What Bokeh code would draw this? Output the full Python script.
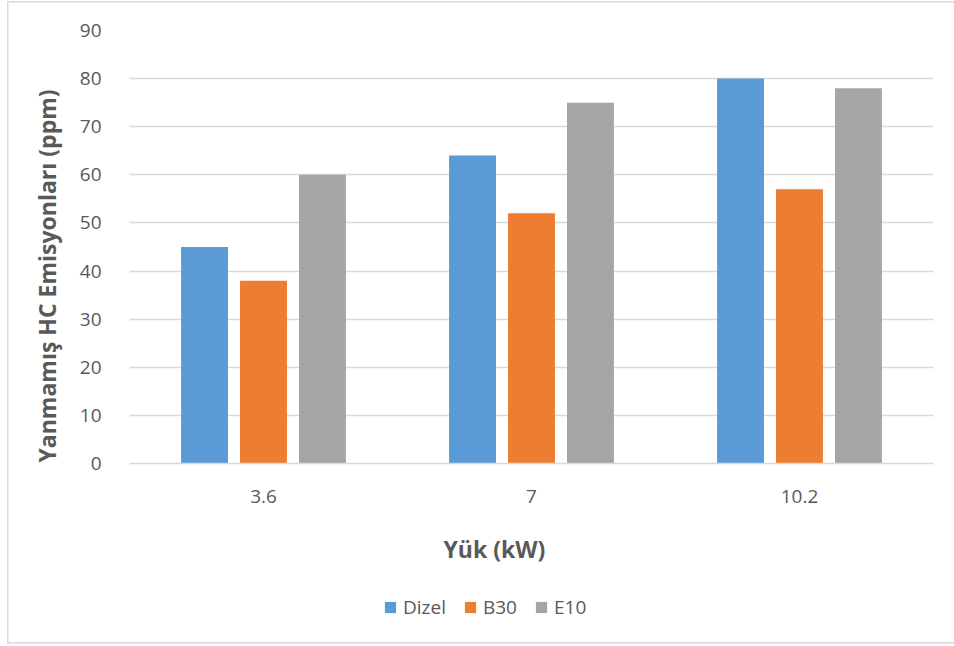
from bokeh.plotting import figure
from bokeh.layouts import column
from bokeh.models import ColumnDataSource, Legend, LegendItem, FactorRange, FixedTicker, Title
from bokeh.transform import dodge
from bokeh.embed import file_html
from bokeh.resources import INLINE

# Unburned HC emissions per engine load for each fuel
loads = ["3.6", "7", "10.2"]
dizel = [45, 64, 80]
b30 = [38, 52, 57]
e10 = [60, 75, 78]
series_names = ["Dizel", "B30", "E10"]
colors = ["#5B9BD5", "#ED7D31", "#A5A5A5"]
y_ticks = [0, 10, 20, 30, 40, 50, 60, 70, 80, 90]
x_title = "Yük (kW)"
y_title = "Yanmamış HC Emisyonları (ppm)"

FONT = "Open Sans"
TEXT = "#595959"
GRID = "#d9d9d9"

src = ColumnDataSource(dict(load=loads, Dizel=dizel, B30=b30, E10=e10))

p = figure(width=954, height=589, x_range=FactorRange(*loads), y_range=(0, 90),
           output_backend="svg", toolbar_location=None,
           min_border_left=129, min_border_right=21, min_border_top=30,
           min_border_bottom=126, border_fill_alpha=0)

offsets = [-0.22, 0.0, 0.22]
for name, col, off in zip(series_names, colors, offsets):
    p.vbar(x=dodge("load", off, range=p.x_range), top=name, width=0.175,
           source=src, fill_color=col, line_color=None)

# axes
p.yaxis.ticker = FixedTicker(ticks=y_ticks)
for ax in (p.xaxis[0], p.yaxis[0]):
    ax.major_tick_line_color = None
    ax.minor_tick_line_color = None
    ax.major_label_text_font = FONT
    ax.major_label_text_font_size = "19px"
    ax.major_label_text_color = TEXT
p.yaxis.axis_line_color = None
p.xaxis.axis_line_color = GRID
p.xaxis.axis_line_width = 1.5
p.xaxis.major_label_standoff = 20
p.yaxis.major_label_standoff = 22

# axis titles, placed off-centre along their axes
p.add_layout(Title(text=y_title, align="left", offset=1, standoff=27,
                   text_font=FONT, text_font_style="bold", text_font_size="23px",
                   text_color=TEXT), "left")
p.add_layout(Title(text=x_title, align="left", offset=314, standoff=50,
                   text_font=FONT, text_font_style="bold", text_font_size="23px",
                   text_color=TEXT), "below")

p.xgrid.grid_line_color = None
p.ygrid.grid_line_color = GRID
p.ygrid.grid_line_width = 1.5
p.outline_line_color = None

# legend strip under the chart; its bars fall outside the strip's range
lg = figure(width=954, height=57, x_range=FactorRange(*loads), y_range=(-1, 0),
            output_backend="svg", toolbar_location=None,
            min_border_left=0, min_border_right=0,
            min_border_top=0, min_border_bottom=0,
            border_fill_alpha=0, background_fill_alpha=0)
lg.axis.visible = False
lg.grid.visible = False
lg.outline_line_color = None
keys = []
for name, col in zip(series_names, colors):
    r = lg.vbar(x="load", top=name, bottom=0, width=0.1, source=src,
                fill_color=col, line_color=None)
    keys.append(LegendItem(label=name, renderers=[r]))

legend = Legend(items=keys, orientation="horizontal", location=(254, 26),
                glyph_width=14, glyph_height=14, label_standoff=6, spacing=17,
                label_text_font=FONT, label_text_font_size="19px", label_text_color=TEXT,
                border_line_color=None, background_fill_alpha=0, margin=0, padding=0)
lg.add_layout(legend)

# thin frame around the chart area
line = "linear-gradient(#dadada, #dadada)"
page = column(p, lg, spacing=0, styles={
    "background": (f"{line} 7px 1px / 1.5px 643px no-repeat, "
                   f"{line} 7px 1px / 947px 1.5px no-repeat, "
                   f"{line} 7px 642px / 947px 1.5px no-repeat, white"),
})

open("out.html", "w").write(file_html(page, INLINE))
